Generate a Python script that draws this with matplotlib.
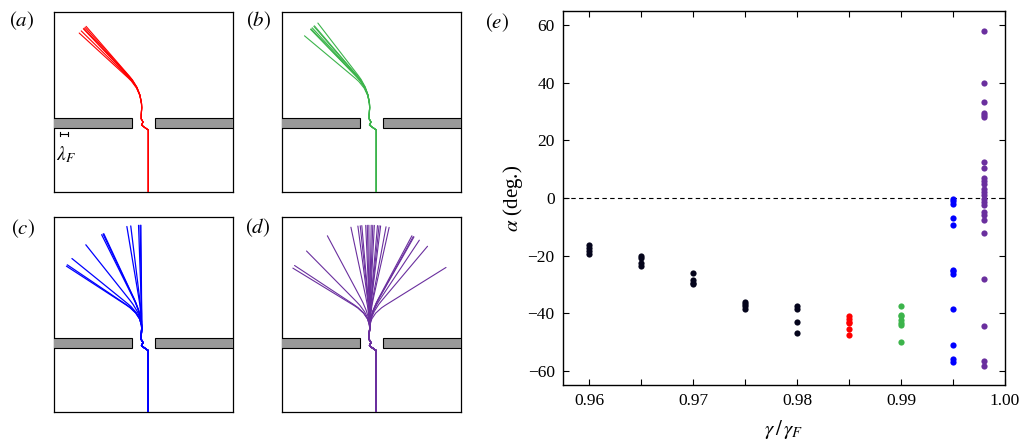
import numpy as np
import matplotlib
matplotlib.use("Agg")
import matplotlib.pyplot as plt
from matplotlib.path import Path
from matplotlib.patches import PathPatch, Rectangle

plt.rcParams["font.family"] = ["Liberation Serif", "DejaVu Serif"]
plt.rcParams["mathtext.fontset"] = "stix"

# deflection angle alpha (deg.) of the exit direction at each memory parameter
gamma_black = [0.96, 0.965, 0.97, 0.975, 0.98]
alpha_black = [
    [-16.5, -17.5, -18.5, -19.5],
    [-20.0, -21.0, -22.5, -23.5],
    [-26.0, -28.5, -29.5, -30.0],
    [-36.0, -37.0, -37.5, -38.5],
    [-37.5, -38.5, -43.0, -47.0],
]
gamma_red = 0.985
alpha_red = [-41.0, -42.0, -43.0, -43.5, -45.5, -47.5]
gamma_green = 0.99
alpha_green = [-37.5, -40.5, -41.0, -42.5, -43.5, -44.0, -50.0]
gamma_blue = 0.995
alpha_blue = [-0.5, -1.0, -2.0, -7.0, -9.5, -25.0, -25.5, -26.5, -38.5, -51.0, -56.0, -57.0]
gamma_purple = 0.998
alpha_purple = [58.0, 40.0, 33.5, 29.5, 29.0, 28.0, 12.5, 10.5, 7.0, 6.0, 5.0, 3.0, 2.0, 1.0,
                -0.5, -1.5, -2.5, -5.0, -6.0, -7.5, -12.0, -28.0, -44.5, -56.5, -58.5]

# common path of the walker through the slit (units of lambda_F, wall centred at y=0)
entry_x = [0.6, 0.6, 0.08, -0.22, -0.04, -0.25, -0.25, -0.2]
entry_y = [-9.0, -0.88, -0.52, -0.28, 0.08, 0.45, 0.93, 1.8]

red = "#ff0000"
green = "#3cb44b"
blue = "#0000ff"
purple = "#6a2f9e"
black = "#05051c"

fig = plt.figure(figsize=(10.25, 4.48), dpi=100)


def draw_slit(ax, alphas, color, ylim, pivot_y, bend, length, lw):
    ax.set_xlim(-10.75, 10.75)
    ax.set_ylim(*ylim)
    ax.set_xticks([])
    ax.set_yticks([])
    for s in ax.spines.values():
        s.set_linewidth(0.9)
    ax.add_patch(Rectangle((-11, -0.6), 9.6, 1.2, fc="#999999", ec="black", lw=0.8, zorder=3))
    ax.add_patch(Rectangle((1.45, -0.6), 9.6, 1.2, fc="#999999", ec="black", lw=0.8, zorder=3))
    x0 = entry_x[-1]
    for a in alphas:
        t = np.deg2rad(a)
        px, py = x0, pivot_y
        verts = list(zip(entry_x, entry_y))
        verts += [(px, py), (px + bend * np.sin(t), py + bend * np.cos(t)),
                  (px + length * np.sin(t), py + length * np.cos(t))]
        codes = [Path.MOVETO] + [Path.LINETO] * (len(entry_x) - 1) + [Path.CURVE3, Path.CURVE3, Path.LINETO]
        ax.add_patch(PathPatch(Path(verts, codes), fc="none", ec=color, lw=lw, zorder=4,
                               capstyle="round", joinstyle="round"))


top_ylim = (-8.38, 13.36)
bot_ylim = (-8.3, 15.23)

ax_a = fig.add_axes([0.0527, 0.5708, 0.1743, 0.4031])
draw_slit(ax_a, alpha_red, red, top_ylim, 3.9, 2.2, 10.2, 0.8)
ax_a.plot([-10.05, -9.05], [-1.4, -1.4], color="black", lw=0.8)
ax_a.plot([-10.05, -10.05], [-1.65, -1.15], color="black", lw=0.8)
ax_a.plot([-9.05, -9.05], [-1.65, -1.15], color="black", lw=0.8)
ax_a.text(-9.3, -3.9, r"$\lambda_F$", fontsize=14, ha="center", va="center")

ax_b = fig.add_axes([0.2748, 0.5708, 0.1749, 0.4031])
draw_slit(ax_b, alpha_green, green, top_ylim, 3.9, 2.2, 10.2, 0.8)

ax_c = fig.add_axes([0.0527, 0.0797, 0.1743, 0.4366])
draw_slit(ax_c, alpha_blue, blue, bot_ylim, 3.4, 2.2, 10.8, 0.9)

ax_d = fig.add_axes([0.2748, 0.0797, 0.1749, 0.4366])
draw_slit(ax_d, alpha_purple, purple, bot_ylim, 3.4, 2.2, 10.8, 0.8)

# alpha against gamma / gamma_F
ax_e = fig.add_axes([0.5493, 0.1406, 0.4312, 0.8348])
ax_e.axhline(0, color="black", lw=0.8, dashes=(4, 3), zorder=1)
for g, vals in zip(gamma_black, alpha_black):
    ax_e.scatter([g] * len(vals), vals, s=20, color=black, lw=0, zorder=3)
for g, vals, c in [(gamma_red, alpha_red, red), (gamma_green, alpha_green, green),
                   (gamma_blue, alpha_blue, blue), (gamma_purple, alpha_purple, purple)]:
    ax_e.scatter([g] * len(vals), vals, s=20, color=c, lw=0, zorder=3)

ax_e.set_xlim(0.9575, 1.0)
ax_e.set_ylim(-65, 65)
ax_e.set_xticks([0.96, 0.97, 0.98, 0.99, 1.00])
ax_e.set_xticklabels(["0.96", "0.97", "0.98", "0.99", "1.00"])
ax_e.set_xticks([0.965, 0.975, 0.985, 0.995], minor=True)
ax_e.set_yticks([60, 40, 20, 0, -20, -40, -60])
ax_e.set_yticklabels(["60", "40", "20", "0", "\u221220", "\u221240", "\u221260"])
ax_e.tick_params(which="both", direction="in", top=True, right=True, length=4.5, width=0.8,
                 labelsize=12.5, pad=6)
for s in ax_e.spines.values():
    s.set_linewidth(1.0)
ax_e.set_xlabel(r"$\gamma\,/\,\gamma_F$", fontsize=15, labelpad=6)
ax_e.set_ylabel(r"$\alpha$ (deg.)", fontsize=15, labelpad=2)

for lbl, x, y in [("a", 22, 21), ("b", 259, 21), ("c", 23, 229), ("d", 258, 228), ("e", 497, 23)]:
    fig.text(x / 1025, 1 - y / 448, rf"$({lbl})$", fontsize=15, ha="center", va="center")

fig.savefig("out.png", dpi=100)
